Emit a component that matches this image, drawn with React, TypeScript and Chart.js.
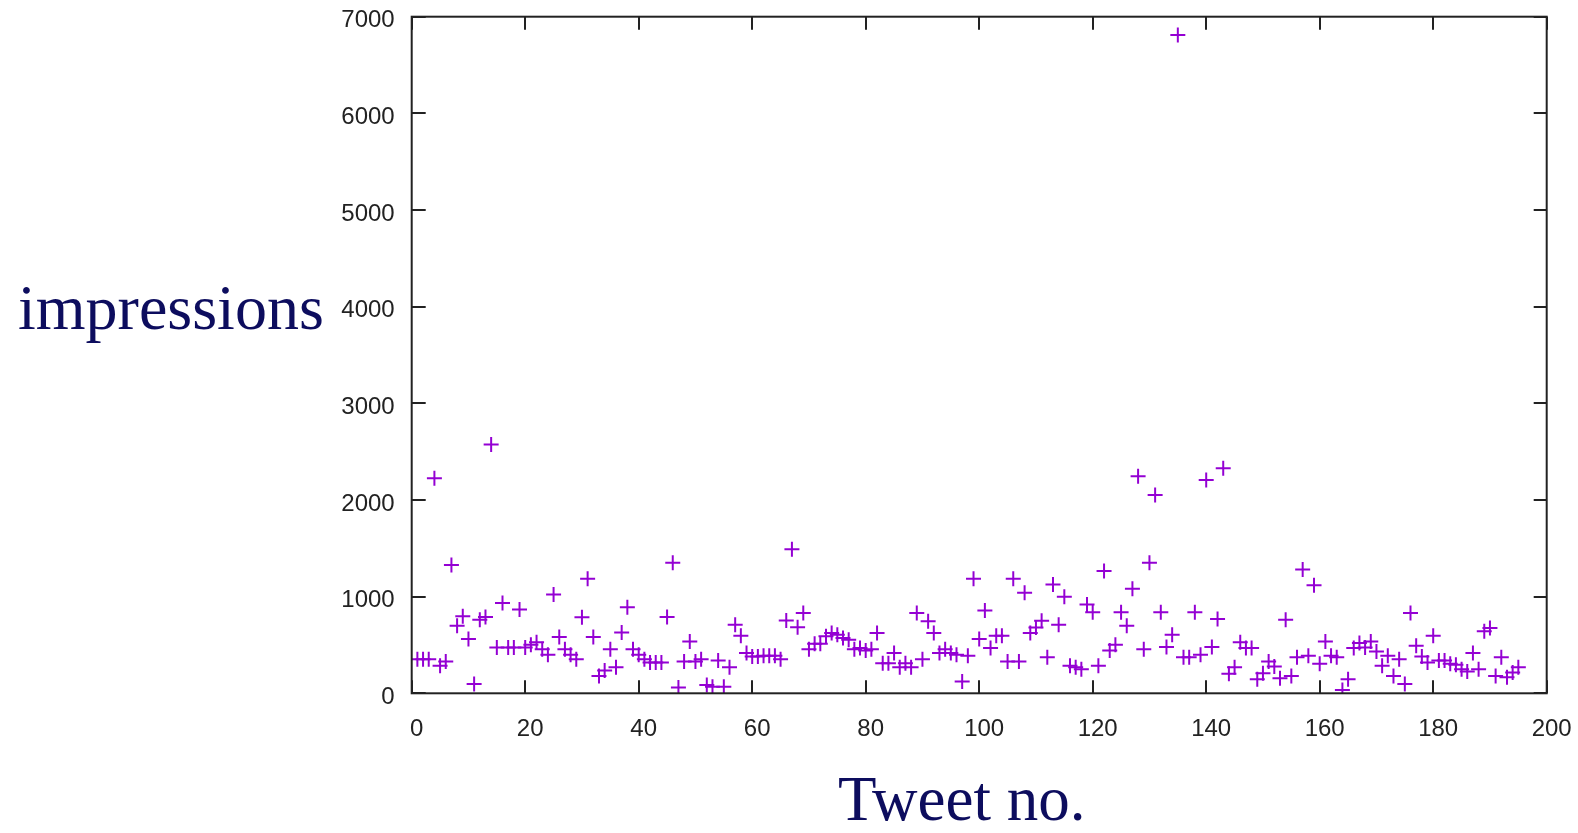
import React, { useEffect, useRef } from 'react';
import { Chart, registerables } from 'chart.js';

Chart.register(...registerables);

// Impressions per tweet, tweet no. 1..195
const impressions: number[] = [
  353, 353, 353, 2224, 284, 329, 1327, 700, 797, 561,
  97, 762, 790, 2574, 475, 935, 475, 475, 866, 475,
  502, 527, 457, 398, 1022, 582, 457, 398, 353, 787,
  1185, 582, 180, 236, 457, 270, 630, 890, 457, 398,
  353, 319, 319, 319, 790, 1351, 59, 329, 537, 329,
  353, 87, 69, 340, 69, 270, 710, 596, 416, 381,
  381, 388, 388, 388, 353, 752, 1490, 683, 832, 457,
  513, 513, 589, 624, 606, 572, 554, 457, 468, 443,
  457, 624, 312, 312, 416, 270, 312, 270, 832, 353,
  745, 624, 416, 457, 416, 398, 121, 388, 1185, 561,
  856, 468, 596, 596, 329, 1185, 329, 1040, 624, 680,
  750, 374, 1126, 710, 998, 284, 270, 249, 918, 838,
  284, 1265, 443, 502, 838, 700, 1081, 2245, 457, 1351,
  2051, 838, 478, 606, 6810, 374, 374, 838, 398, 2207,
  478, 769, 2328, 201, 270, 527, 468, 468, 146, 208,
  329, 277, 156, 762, 180, 374, 1282, 388, 1119, 305,
  537, 388, 374, 35, 146, 468, 520, 475, 537, 433,
  284, 388, 180, 353, 97, 832, 492, 381, 319, 596,
  340, 340, 305, 295, 249, 225, 416, 249, 641, 676,
  180, 374, 166, 215, 270,
];

const xTicks: number[] = [0, 20, 40, 60, 80, 100, 120, 140, 160, 180, 200];
const yTicks: number[] = [0, 1000, 2000, 3000, 4000, 5000, 6000, 7000];

const xLabel = 'Tweet no.';
const yLabel = 'impressions';

const framePlugin = {
  id: 'gnuFrame',
  afterDraw(chart: any) {
    const { ctx, chartArea } = chart;
    const xs = chart.scales.x;
    const ys = chart.scales.y;
    const { left, right, top, bottom } = chartArea;
    ctx.save();
    ctx.strokeStyle = '#222222';
    ctx.lineWidth = 2;
    ctx.strokeRect(left, top, right - left, bottom - top);
    const tl = 13;
    ctx.beginPath();
    for (const v of xTicks) {
      const px = Math.round(xs.getPixelForValue(v));
      ctx.moveTo(px, bottom);
      ctx.lineTo(px, bottom - tl);
      ctx.moveTo(px, top);
      ctx.lineTo(px, top + tl);
    }
    for (const v of yTicks) {
      const py = Math.round(ys.getPixelForValue(v));
      ctx.moveTo(left, py);
      ctx.lineTo(left + tl + 1, py);
      ctx.moveTo(right, py);
      ctx.lineTo(right - tl, py);
    }
    ctx.stroke();
    ctx.restore();
  },
};

export default function App() {
  const canvasRef = useRef<HTMLCanvasElement | null>(null);

  useEffect(() => {
    const canvas = canvasRef.current;
    if (!canvas) return;
    const points = impressions.map((v, i) => ({ x: i + 1, y: v }));
    const tickFont = { family: '"Liberation Sans", Arial, sans-serif', size: 24 };
    const chart = new Chart(canvas, {
      type: 'scatter',
      data: {
        datasets: [
          {
            data: points,
            pointStyle: 'cross',
            pointRadius: 7.5,
            pointHoverRadius: 7.5,
            pointBorderWidth: 2,
            borderColor: '#9400d3',
            backgroundColor: '#9400d3',
          },
        ],
      },
      options: {
        animation: false,
        responsive: false,
        maintainAspectRatio: false,
        layout: { padding: { left: 0, right: 31.3, top: 16.7, bottom: 0 } },
        plugins: {
          legend: { display: false },
          tooltip: { enabled: false },
        },
        scales: {
          x: {
            type: 'linear',
            min: 0,
            max: 200,
            afterBuildTicks: (scale: any) => {
              scale.ticks = xTicks.map((v) => ({ value: v }));
            },
            afterFit: (scale: any) => {
              scale.height = 139.7;
              scale.paddingLeft = 0;
              scale.paddingRight = 0;
            },
            grid: { display: false, drawTicks: false },
            border: { display: false },
            ticks: {
              padding: 22,
              labelOffset: 5,
              color: '#222222',
              font: tickFont,
              maxRotation: 0,
              autoSkip: false,
              callback: (v: any) => String(v),
            },
          },
          y: {
            type: 'linear',
            min: 0,
            max: 7000,
            afterBuildTicks: (scale: any) => {
              scale.ticks = yTicks.map((v) => ({ value: v }));
            },
            afterFit: (scale: any) => {
              scale.width = 411.7;
              scale.paddingTop = 0;
              scale.paddingBottom = 0;
            },
            grid: { display: false, drawTicks: false },
            border: { display: false },
            ticks: {
              padding: 17,
              labelOffset: 4,
              color: '#222222',
              font: tickFont,
              autoSkip: false,
              callback: (v: any) => String(v),
            },
          },
        },
      },
      plugins: [framePlugin],
    });
    return () => chart.destroy();
  }, []);

  return (
    <div
      style={{
        position: 'absolute',
        left: 0,
        top: 0,
        width: 1578,
        height: 833,
        background: '#ffffff',
        overflow: 'hidden',
      }}
    >
      <canvas ref={canvasRef} width={1578} height={833} style={{ display: 'block' }} />
      <div
        style={{
          position: 'absolute',
          left: 18,
          top: 276,
          fontFamily: '"Liberation Serif", "DejaVu Serif", serif',
          fontSize: 64,
          lineHeight: '64px',
          color: '#0d0d5e',
          whiteSpace: 'nowrap',
        }}
      >
        {yLabel}
      </div>
      <div
        style={{
          position: 'absolute',
          left: 838,
          top: 768,
          fontFamily: '"Liberation Serif", "DejaVu Serif", serif',
          fontSize: 63,
          lineHeight: '63px',
          color: '#0d0d5e',
          whiteSpace: 'nowrap',
        }}
      >
        {xLabel}
      </div>
    </div>
  );
}
